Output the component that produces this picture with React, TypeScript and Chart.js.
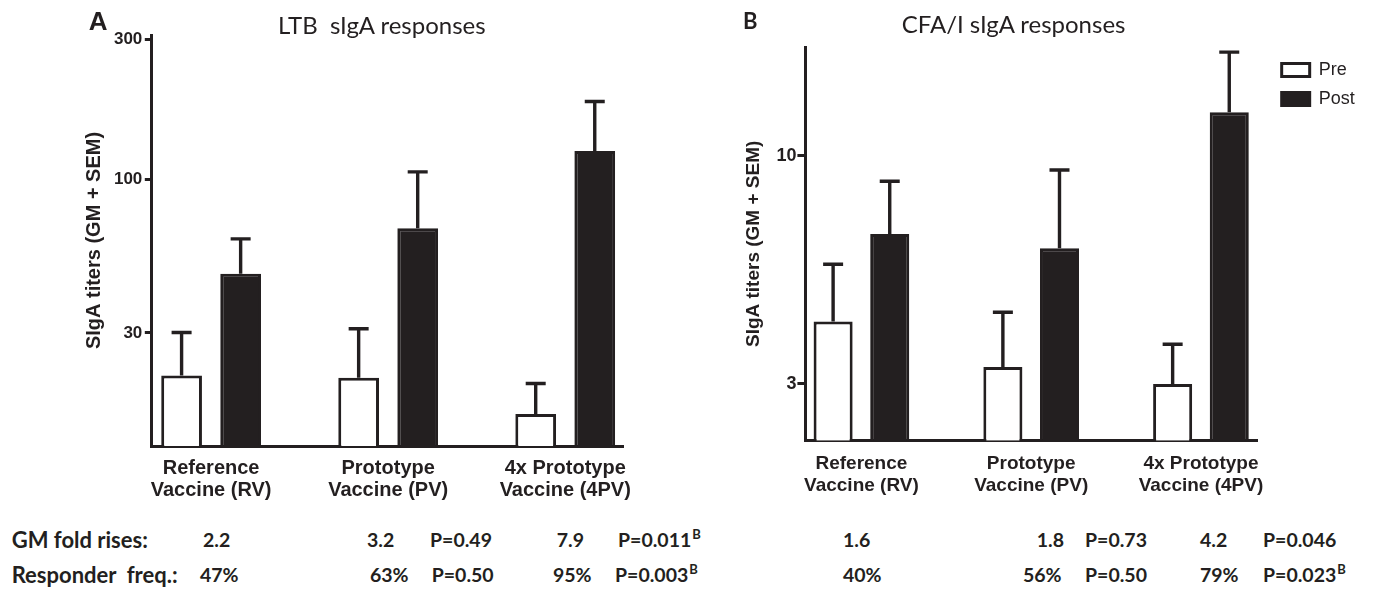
import React, { useEffect, useRef } from 'react';
import { Chart, registerables } from 'chart.js';

Chart.register(...registerables);

// ---------------- data ----------------
const categoryLines: string[][] = [
  ['Reference', 'Vaccine (RV)'],
  ['Prototype', 'Vaccine (PV)'],
  ['4x Prototype', 'Vaccine (4PV)'],
];
const seriesNames = ['Pre', 'Post'];

// Panel A: LTB sIgA responses (geometric mean titers and GM + SEM upper ends)
const ltbPre = [21.5, 21.1, 15.9];
const ltbPost = [47.7, 68.2, 125];
const ltbPreUpper = [30.1, 31.0, 20.2];
const ltbPostUpper = [62.7, 106, 184];
const ltbTicks = [30, 100, 300];
const ltbRange = [12.37, 310];

// Panel B: CFA/I sIgA responses
const cfaPre = [4.17, 3.28, 3.0];
const cfaPost = [6.62, 6.14, 12.57];
const cfaPreUpper = [5.64, 4.38, 3.7];
const cfaPostUpper = [8.74, 9.27, 17.27];
const cfaTicks = [3, 10];
const cfaRange = [2.224, 17.74];

const yAxisTitle = 'SIgA titers (GM + SEM)';
const titleA = 'LTB  sIgA responses';
const titleB = 'CFA/I sIgA responses';

// Table under the charts
const rowLabels = ['GM fold rises:', 'Responder  freq.:'];
const ltbFoldRises = ['2.2', '3.2', '7.9'];
const ltbFoldP = ['', 'P=0.49', 'P=0.011'];
const ltbFoldSup = ['', '', 'B'];
const ltbResponders = ['47%', '63%', '95%'];
const ltbRespP = ['', 'P=0.50', 'P=0.003'];
const ltbRespSup = ['', '', 'B'];
const cfaFoldRises = ['1.6', '1.8', '4.2'];
const cfaFoldP = ['', 'P=0.73', 'P=0.046'];
const cfaFoldSup = ['', '', ''];
const cfaResponders = ['40%', '56%', '79%'];
const cfaRespP = ['', 'P=0.50', 'P=0.023'];
const cfaRespSup = ['', '', 'B'];

// ---------------- styling / layout ----------------
const INK = '#231f20';
const ARIAL = "'Liberation Sans', Arial, Helvetica, sans-serif";
const CAL = "Lato, 'Open Sans', sans-serif";

type PanelLayout = {
  canvasLeft: number;
  canvasWidth: number;
  canvasHeight: number;
  padding: { left: number; right: number; top: number; bottom: number };
  yWidth: number;
  xHeight: number;
  xMin: number;
  xMax: number;
  tickFont: number;
  tickLength: number;
  tickPadding: number;
  catFont: number;
  catLineHeight: number;
  catPadding: number;
  titleFont: number;
  titlePad: number;
  legend: boolean;
  gap: number;
};

const layoutA: PanelLayout = {
  canvasLeft: 0,
  canvasWidth: 700,
  canvasHeight: 515,
  padding: { left: 70, right: 76.7, top: 35, bottom: 0 },
  yWidth: 81.8,
  xHeight: 69,
  xMin: -0.335,
  xMax: 2.328,
  tickFont: 17,
  tickLength: 7,
  tickPadding: 2.5,
  catFont: 20,
  catLineHeight: 1.12,
  catPadding: 11.3,
  titleFont: 20,
  titlePad: 12.4,
  legend: false,
  gap: 0,
};

const layoutB: PanelLayout = {
  canvasLeft: 700,
  canvasWidth: 673,
  canvasHeight: 515,
  padding: { left: 30, right: 8.3, top: 47, bottom: 0 },
  yWidth: 75.4,
  xHeight: 74.3,
  xMin: -0.33,
  xMax: 2.333,
  tickFont: 18,
  tickLength: 8,
  tickPadding: 1,
  catFont: 19,
  catLineHeight: 1.17,
  catPadding: 11.9,
  titleFont: 19,
  titlePad: 11.9,
  legend: true,
  gap: 13.2,
};

function errorBarPlugin(uppers: number[][]) {
  return {
    id: 'errorBars',
    afterDatasetsDraw(chart: any) {
      const ctx = chart.ctx;
      const yScale = chart.scales.y;
      ctx.save();
      ctx.strokeStyle = INK;
      ctx.lineWidth = 3.4;
      uppers.forEach((vals, di) => {
        const meta = chart.getDatasetMeta(di);
        meta.data.forEach((bar: any, i: number) => {
          const yTop = yScale.getPixelForValue(vals[i]);
          ctx.beginPath();
          ctx.moveTo(bar.x, bar.y);
          ctx.lineTo(bar.x, yTop);
          ctx.moveTo(bar.x - 10, yTop);
          ctx.lineTo(bar.x + 10, yTop);
          ctx.stroke();
        });
      });
      ctx.restore();
    },
  };
}

function buildConfig(
  L: PanelLayout,
  pre: number[],
  post: number[],
  preUpper: number[],
  postUpper: number[],
  yTicks: number[],
  yRange: number[]
): any {
  const barCommon = {
    borderColor: INK,
    borderWidth: 3,
    categoryPercentage: 0.667,
    barPercentage: 0.69,
    xAxisID: 'x',
    yAxisID: 'y',
  };
  const scales: any = {
    x: {
      type: 'linear',
      min: L.xMin,
      max: L.xMax,
      offset: false,
      bounds: 'data',
      grid: { display: true, drawOnChartArea: false, drawTicks: false, color: INK },
      border: { display: true, color: INK, width: 3 },
      ticks: {
        autoSkip: false,
        maxRotation: 0,
        minRotation: 0,
        padding: L.catPadding,
        color: INK,
        font: { family: ARIAL, size: L.catFont, weight: 'bold', lineHeight: L.catLineHeight },
        callback: (_v: any, i: number) => categoryLines[i] ?? '',
      },
      afterBuildTicks: (s: any) => {
        s.ticks = categoryLines.map((_, i) => ({ value: i }));
      },
      afterFit: (s: any) => {
        s.height = L.xHeight;
      },
    },
    y: {
      type: 'logarithmic',
      min: yRange[0],
      max: yRange[1],
      bounds: 'data',
      beginAtZero: false,
      grid: {
        drawOnChartArea: false,
        drawTicks: true,
        tickLength: L.tickLength,
        color: INK,
        lineWidth: 3,
      },
      border: { display: true, color: INK, width: 3 },
      ticks: {
        autoSkip: false,
        padding: L.tickPadding,
        color: INK,
        font: { family: ARIAL, size: L.tickFont, weight: 'bold' },
        callback: (v: any) => String(v),
      },
      afterBuildTicks: (s: any) => {
        s.ticks = yTicks.map((v) => ({ value: v }));
      },
      afterFit: (s: any) => {
        s.width = L.yWidth;
      },
      title: {
        display: true,
        text: yAxisTitle,
        color: INK,
        font: { family: ARIAL, size: L.titleFont, weight: 'bold' },
        padding: { top: L.titlePad, bottom: 0 },
      },
    },
  };
  if (L.gap > 0) {
    scales.gap = {
      type: 'linear',
      position: 'right',
      display: true,
      grid: { display: false, drawTicks: false },
      border: { display: false },
      ticks: { display: false },
      afterFit: (s: any) => {
        s.width = L.gap;
      },
    };
  }
  return {
    type: 'bar',
    data: {
      datasets: [
        {
          ...barCommon,
          label: seriesNames[0],
          backgroundColor: '#ffffff',
          data: pre.map((v, i) => ({ x: i, y: v })),
        },
        {
          ...barCommon,
          label: seriesNames[1],
          backgroundColor: INK,
          data: post.map((v, i) => ({ x: i, y: v })),
        },
      ],
    },
    options: {
      animation: false,
      responsive: false,
      maintainAspectRatio: false,
      devicePixelRatio: 1,
      layout: { padding: L.padding },
      plugins: {
        title: { display: false },
        tooltip: { enabled: false },
        legend: {
          display: L.legend,
          position: 'right',
          align: 'start',
          title: { display: true, text: ' ', padding: 0, font: { size: 3, lineHeight: 1 } },
          labels: {
            boxWidth: 28,
            boxHeight: 13,
            padding: 11,
            color: INK,
            font: { family: ARIAL, size: 18 },
          },
        },
      },
      scales,
    },
    plugins: [errorBarPlugin([preUpper, postUpper])],
  };
}

function Panel(props: {
  L: PanelLayout;
  pre: number[];
  post: number[];
  preUpper: number[];
  postUpper: number[];
  yTicks: number[];
  yRange: number[];
}) {
  const ref = useRef<HTMLCanvasElement | null>(null);
  useEffect(() => {
    if (!ref.current) return;
    const chart = new Chart(
      ref.current,
      buildConfig(props.L, props.pre, props.post, props.preUpper, props.postUpper, props.yTicks, props.yRange)
    );
    return () => chart.destroy();
  }, []);
  const L = props.L;
  return (
    <canvas
      ref={ref}
      width={L.canvasWidth}
      height={L.canvasHeight}
      style={{
        position: 'absolute',
        left: L.canvasLeft,
        top: 0,
        width: L.canvasWidth,
        height: L.canvasHeight,
      }}
    />
  );
}

// text placement (layout only)
const ROW_CENTER = [541, 576];
const LABEL_X = 11.7;
const A_VALUE_X = [
  [203, 367, 556.7],
  [200, 370, 553],
];
const A_P_X = [
  [0, 430, 618],
  [0, 431.7, 615],
];
const B_VALUE_X = [
  [843, 1036.7, 1200],
  [843, 1023, 1200],
];
const B_P_X = [
  [0, 1085, 1263],
  [0, 1085, 1263],
];

const baseText: React.CSSProperties = {
  position: 'absolute',
  fontFamily: CAL,
  fontWeight: 700,
  lineHeight: '24px',
  height: 24,
  color: INK,
  whiteSpace: 'pre',
};

function TableText() {
  const rows = [
    { a: ltbFoldRises, ap: ltbFoldP, as: ltbFoldSup, b: cfaFoldRises, bp: cfaFoldP, bs: cfaFoldSup },
    { a: ltbResponders, ap: ltbRespP, as: ltbRespSup, b: cfaResponders, bp: cfaRespP, bs: cfaRespSup },
  ];
  const items: React.ReactNode[] = [];
  rows.forEach((r, ri) => {
    const top = ROW_CENTER[ri] - 12.6;
    items.push(
      <div key={`l${ri}`} style={{ ...baseText, fontSize: 22, left: LABEL_X, top }}>
        {rowLabels[ri]}
      </div>
    );
    const add = (vals: string[], ps: string[], sups: string[], vx: number[][], px: number[][], tag: string) => {
      vals.forEach((v, i) => {
        items.push(
          <div key={`${tag}v${ri}${i}`} style={{ ...baseText, fontSize: 19.5, left: vx[ri][i], top }}>
            {v}
          </div>
        );
        if (ps[i]) {
          items.push(
            <div key={`${tag}p${ri}${i}`} style={{ ...baseText, fontSize: 19.5, left: px[ri][i], top }}>
              {ps[i]}
              {sups[i] ? (
                <span style={{ fontSize: 13, position: 'relative', top: -8, marginLeft: 1 }}>{sups[i]}</span>
              ) : null}
            </div>
          );
        }
      });
    };
    add(r.a, r.ap, r.as, A_VALUE_X, A_P_X, 'a');
    add(r.b, r.bp, r.bs, B_VALUE_X, B_P_X, 'b');
  });
  return <>{items}</>;
}

export default function App() {
  return (
    <div
      style={{
        position: 'absolute',
        left: 0,
        top: 0,
        width: 1373,
        height: 599,
        overflow: 'hidden',
        background: '#ffffff',
      }}
    >
      <Panel
        L={layoutA}
        pre={ltbPre}
        post={ltbPost}
        preUpper={ltbPreUpper}
        postUpper={ltbPostUpper}
        yTicks={ltbTicks}
        yRange={ltbRange}
      />
      <Panel
        L={layoutB}
        pre={cfaPre}
        post={cfaPost}
        preUpper={cfaPreUpper}
        postUpper={cfaPostUpper}
        yTicks={cfaTicks}
        yRange={cfaRange}
      />
      <div
        style={{
          position: 'absolute',
          left: 88.7,
          top: 8,
          fontFamily: ARIAL,
          fontWeight: 700,
          fontSize: 26,
          lineHeight: '26px',
          color: INK,
        }}
      >
        A
      </div>
      <div
        style={{
          position: 'absolute',
          left: 743,
          top: 9.5,
          fontFamily: CAL,
          fontWeight: 700,
          fontSize: 22,
          lineHeight: '22px',
          color: INK,
        }}
      >
        B
      </div>
      <div
        style={{
          position: 'absolute',
          left: 278,
          top: 13,
          fontFamily: CAL,
          fontWeight: 400,
          fontSize: 24,
          lineHeight: '24px',
          color: INK,
          whiteSpace: 'pre',
        }}
      >
        {titleA}
      </div>
      <div
        style={{
          position: 'absolute',
          left: 901.7,
          top: 12,
          fontFamily: CAL,
          fontWeight: 400,
          fontSize: 24,
          lineHeight: '24px',
          color: INK,
          whiteSpace: 'pre',
        }}
      >
        {titleB}
      </div>
      <TableText />
    </div>
  );
}
